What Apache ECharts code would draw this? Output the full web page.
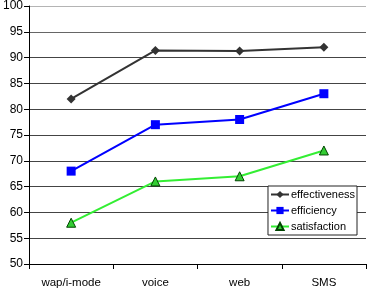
<!DOCTYPE html>
<html>
<head>
<meta charset="utf-8">
<script src="https://cdn.jsdelivr.net/npm/echarts@6/dist/echarts.min.js"></script>
<style>
  html, body { margin: 0; padding: 0; background: #fff; }
  #chart { width: 368px; height: 290px; }
</style>
</head>
<body>
<div id="chart"></div>
<script>
const categories = ['wap/i-mode', 'voice', 'web', 'SMS'];
const effectiveness = [82, 91.4, 91.3, 92];
const efficiency = [68, 77, 78, 83];
const satisfaction = [58, 66, 67, 72];

const chart = echarts.init(document.getElementById('chart'));
const font = 'Liberation Sans, Arial, sans-serif';

// grid lines: x axis at 50 is black, top border is light grey
const gridColors = ['#000', '#444', '#444', '#444', '#444', '#444', '#444', '#444', '#444', '#666', '#b4b4b4'];

const option = {
    animation: false,
    textStyle: { fontFamily: font },
    grid: { left: 25, right: 2, top: 4, bottom: 26, containLabel: false },
    legend: {
        orient: 'vertical',
        right: 11,
        top: 186,
        padding: [3, 2, 3, 2],
        itemGap: 5,
        itemWidth: 18,
        itemHeight: 9,
        backgroundColor: '#fff',
        borderColor: '#222',
        borderWidth: 1,
        borderRadius: 0,
        textStyle: { fontFamily: font, fontSize: 11, color: '#000', padding: [0, 0, 0, -3] },
        data: ['effectiveness', 'efficiency', 'satisfaction']
    },
    xAxis: {
        type: 'category',
        data: categories,
        boundaryGap: true,
        axisLine: { lineStyle: { color: '#000', width: 1 } },
        axisTick: { show: true, length: 5, lineStyle: { color: '#000' } },
        axisLabel: { color: '#000', fontSize: 11.5, margin: 13, fontFamily: font }
    },
    yAxis: {
        type: 'value',
        min: 50,
        max: 100,
        interval: 5,
        axisLine: { show: true, lineStyle: { color: '#000', width: 1 } },
        axisTick: { show: true, length: 5, lineStyle: { color: '#000' } },
        axisLabel: { color: '#000', fontSize: 12, margin: 6, fontFamily: font },
        splitLine: { show: true, lineStyle: { color: gridColors, width: 1 } }
    },
    series: [
        {
            name: 'effectiveness',
            type: 'line',
            data: effectiveness,
            symbol: 'diamond',
            symbolSize: 9,
            lineStyle: { color: '#333', width: 2 },
            itemStyle: { color: '#333' }
        },
        {
            name: 'efficiency',
            type: 'line',
            data: efficiency,
            symbol: 'rect',
            symbolSize: 9,
            lineStyle: { color: '#0000ff', width: 2 },
            itemStyle: { color: '#0000ff' }
        },
        {
            name: 'satisfaction',
            type: 'line',
            data: satisfaction,
            symbol: 'triangle',
            symbolSize: 9,
            lineStyle: { color: '#33ee33', width: 2 },
            itemStyle: { color: '#33cc33', borderColor: '#004400', borderWidth: 1 }
        }
    ]
};

chart.setOption(option);
</script>
</body>
</html>
